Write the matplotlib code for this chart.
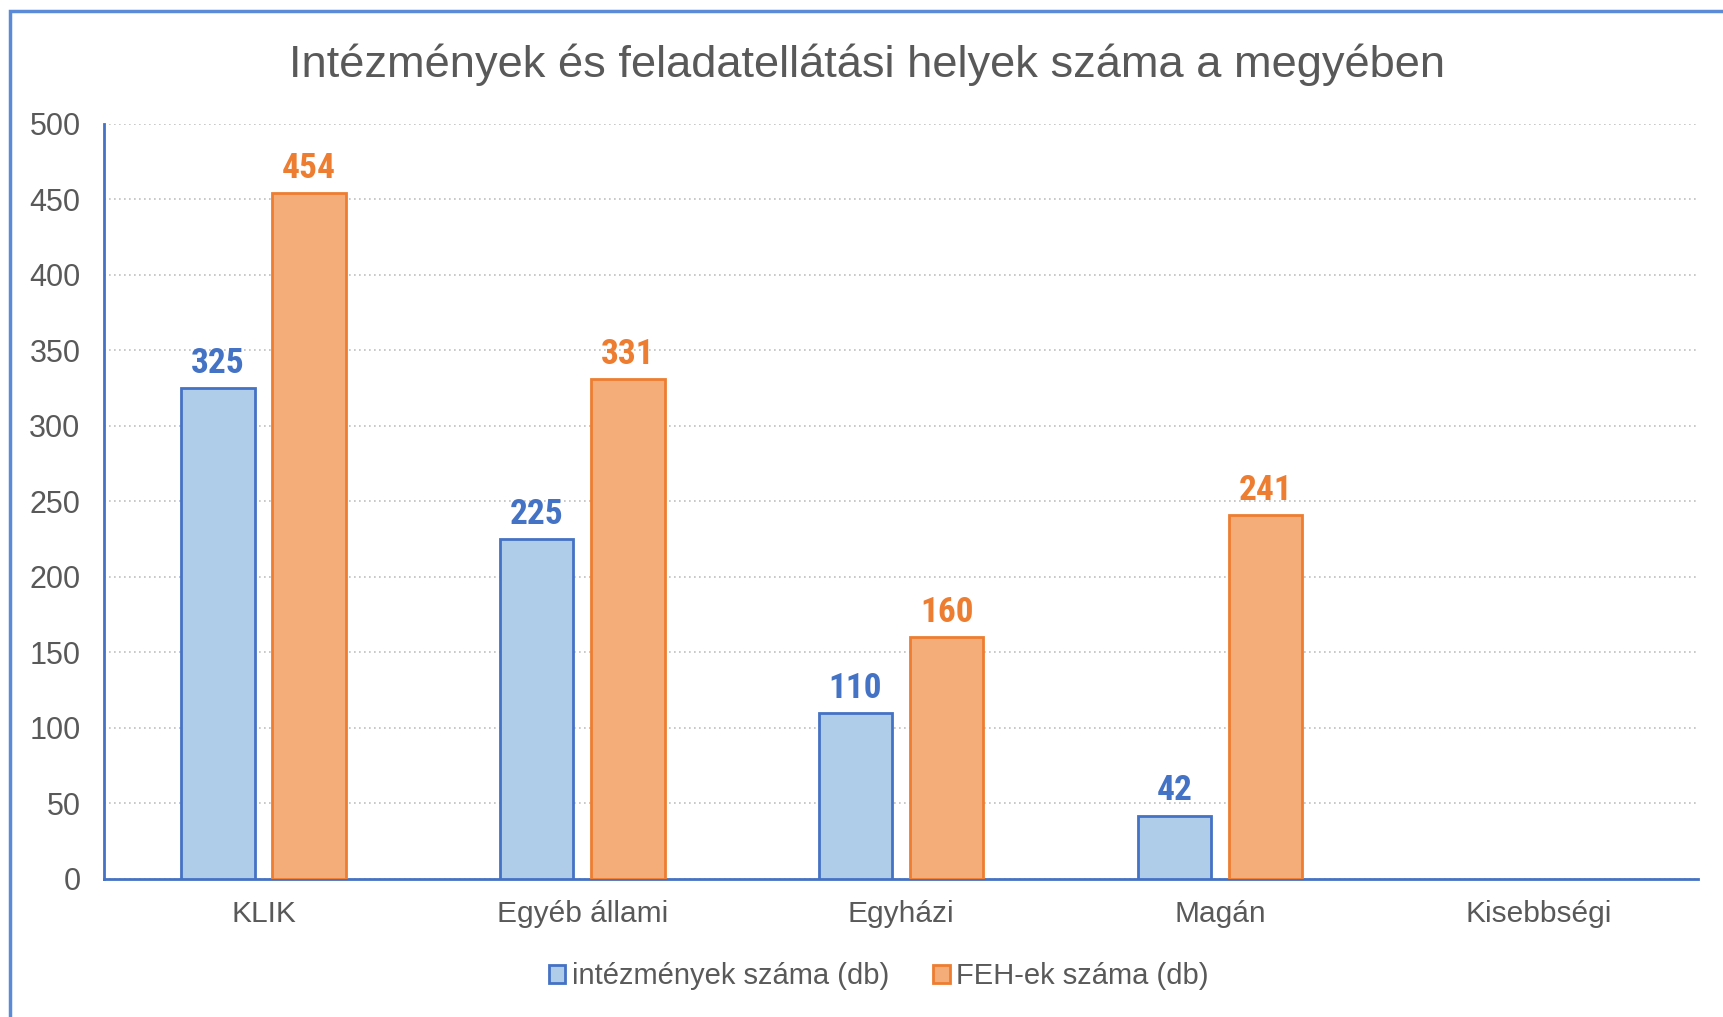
import numpy as np
import matplotlib.pyplot as plt
from matplotlib.patches import Rectangle

categories = ["KLIK", "Egyéb állami", "Egyházi", "Magán", "Kisebbségi"]
intezmenyek = [325, 225, 110, 42, 0]
feh = [454, 331, 160, 241, 0]
label_int = "intézmények száma (db)"
label_feh = "FEH-ek száma (db)"
title = "Intézmények és feladatellátási helyek száma a megyében"

grey = "#595959"
narrow = ["Roboto Condensed", "Liberation Sans Narrow", "Roboto", "DejaVu Sans"]
plt.rcParams["font.family"] = ["Liberation Sans", "DejaVu Sans"]

fig = plt.figure(figsize=(17.23, 10.17), dpi=100)
ax = fig.add_axes([0.0604, 0.1357, 0.9251, 0.7424])

x = np.arange(len(categories))
w = 0.23
off = 0.143
b1 = ax.bar(x - off, intezmenyek, w, color="#AFCDE9", edgecolor="#4472C4", linewidth=2, label=label_int, zorder=3)
b2 = ax.bar(x + off, feh, w, color="#F4AC79", edgecolor="#ED7D31", linewidth=2, label=label_feh, zorder=3)

for bars, vals, c in [(b1, intezmenyek, "#4472C4"), (b2, feh, "#ED7D31")]:
    for r, v in zip(bars, vals):
        if v == 0:
            r.set_linewidth(0)
            continue
        ax.annotate(str(v), (r.get_x() + r.get_width() / 2, v), xytext=(0, 6),
                    textcoords="offset points", ha="center", va="bottom",
                    fontsize=25.5, fontweight="bold", color=c, family=narrow)

ax.set_xlim(-0.5, len(categories) - 0.5)
ax.set_ylim(0, 500)
ax.set_yticks(np.arange(0, 501, 50))
ax.set_xticks(x)
ax.set_xticklabels(categories)
ax.tick_params(axis="both", length=0, colors=grey)
ax.tick_params(axis="y", pad=17, labelsize=22)
ax.tick_params(axis="x", pad=15, labelsize=21.5)
ax.grid(axis="y", linestyle=(0, (1, 2)), color="#BFBFBF", linewidth=1.2, zorder=0)
for s in ["top", "right"]:
    ax.spines[s].set_visible(False)
for s in ["left", "bottom"]:
    ax.spines[s].set_color("#4472C4")
    ax.spines[s].set_linewidth(2)

fig.text(0.503, 0.936, title, ha="center", va="center", fontsize=32.6, color=grey)

fig.legend(loc="center", bbox_to_anchor=(0.51, 0.04), ncol=2, frameon=False,
           fontsize=21, labelcolor=grey, handlelength=0.57, handleheight=0.57,
           handletextpad=0.23, columnspacing=1.5)

fig.patches.append(Rectangle((10 / 1723, -0.05), 1.1, 1.05 - 11 / 1017, transform=fig.transFigure,
                             fill=False, edgecolor="#5B8BD6", linewidth=2.5, zorder=0))

fig.savefig("out.png", dpi=100, facecolor="white")
